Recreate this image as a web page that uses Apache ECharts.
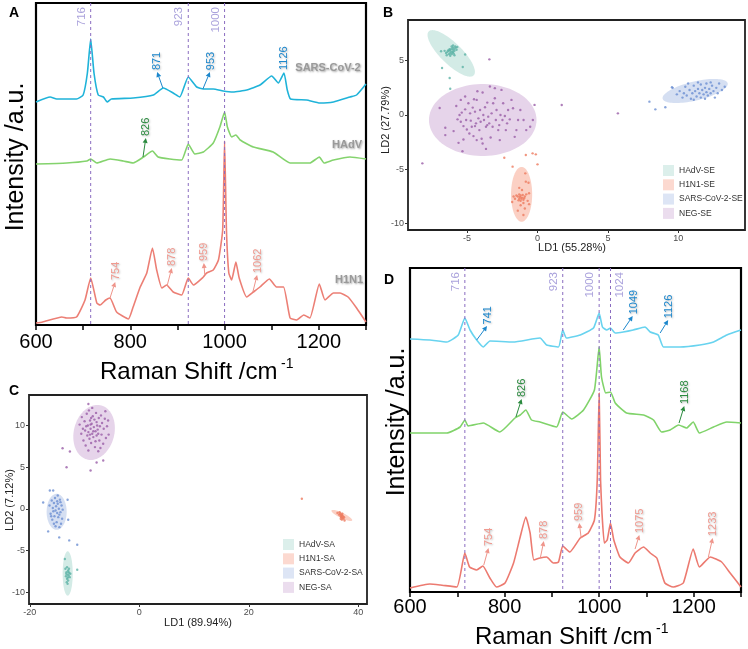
<!DOCTYPE html>
<html>
<head>
<meta charset="utf-8">
<script src="https://cdn.jsdelivr.net/npm/echarts@6/dist/echarts.min.js"></script>
<style>
html, body { margin: 0; padding: 0; background: #fff; }
#chart { width: 748px; height: 649px; }
</style>
</head>
<body>
<div id="chart"></div>
<script>
// ---- panel A spectra: [Raman shift cm-1, intensity a.u.]
var sarsA = [[600,223],[630,228],[644,226],[686,226],[700,230],[709,252],[716,286],[723,252],[732,230],[743,228],[751,223],[760,226],[806,227],[849,230],[870,237],[891,232],[905,228],[923,248],[941,238],[955,236],[976,236],[997,234],[1018,233],[1047,235],[1075,240],[1100,249],[1114,242],[1126,252],[1133,235],[1140,226],[1174,225],[1202,222],[1231,223],[1266,228],[1280,230],[1300,241]];
var hadvA = [[600,161],[665,162],[708,164],[716,166],[729,162],[757,166],[785,164],[806,162],[828,168],[847,174],[859,168],[884,166],[909,165],[923,181],[937,171],[955,173],[976,182],[990,198],[1000,213],[1006,198],[1015,188],[1024,190],[1033,185],[1061,178],[1103,173],[1139,162],[1181,162],[1201,168],[1211,162],[1231,165],[1266,168],[1300,166]];
var h1n1A = [[600,2],[614,3],[655,8],[665,7],[686,8],[704,25],[716,47],[729,22],[736,20],[748,25],[757,27],[771,13],[796,6],[806,18],[821,38],[835,52],[847,77],[856,55],[867,37],[877,40],[891,33],[909,30],[923,47],[934,40],[955,48],[962,52],[976,55],[987,65],[996,95],[1000,184],[1004,95],[1009,52],[1015,45],[1024,63],[1031,47],[1047,28],[1061,33],[1075,38],[1095,46],[1110,38],[1125,38],[1139,7],[1153,5],[1168,10],[1181,7],[1201,41],[1213,25],[1231,32],[1245,32],[1262,28],[1280,17],[1300,3]];

// ---- panel D spectra
var cyanD = [[600,253],[642,252],[678,250],[702,257],[716,274],[727,262],[741,252],[755,245],[769,251],[818,250],[875,254],[889,247],[914,245],[923,262],[931,254],[960,257],[988,264],[1000,279],[1007,265],[1016,262],[1024,264],[1034,259],[1051,260],[1072,262],[1097,265],[1108,260],[1125,257],[1136,245],[1171,245],[1213,247],[1242,250],[1270,257],[1300,262]];
var greenD = [[600,159],[678,159],[706,165],[716,172],[723,166],[755,169],[790,160],[822,174],[833,177],[845,182],[857,172],[875,170],[910,165],[923,180],[942,173],[967,182],[990,202],[1000,245],[1005,215],[1014,199],[1024,200],[1034,189],[1058,179],[1094,177],[1115,172],[1132,160],[1150,162],[1168,167],[1185,164],[1199,170],[1212,159],[1242,165],[1270,170],[1300,169]];
var redD = [[600,4],[642,8],[664,7],[699,5],[716,39],[726,25],[741,22],[754,26],[769,14],[783,5],[801,9],[819,29],[833,55],[845,75],[854,59],[862,32],[875,34],[889,35],[903,29],[914,30],[923,46],[938,40],[960,54],[977,59],[990,72],[996,112],[1000,199],[1003,112],[1006,79],[1011,49],[1017,52],[1024,69],[1031,52],[1044,35],[1062,29],[1076,39],[1094,45],[1108,39],[1122,34],[1139,9],[1157,5],[1178,9],[1199,43],[1212,25],[1235,35],[1259,30],[1277,19],[1300,5]];

// dashed reference lines (label side: -1 left of line, 1 right)
var vlinesA = [716, 923, 1000];
var vlineSideA = [-1, -1, -1];
var vlinesD = [716, 923, 1000, 1024];
var vlineSideD = [-1, -1, -1, 1];

// peak labels: [label, tailX, tailY, headX, headY]
var annSarsA = [[871,869,237,857,253],[953,954,236,969,253],[1126,1126,255,1126,255]];
var annHadvA = [[826,827,168,833,187]];
var annH1n1A = [[754,757,27,768,43],[878,878,39,888,57],[959,958,50,956,62],[1062,1060,33,1069,50]];
var annCyanD = [[741,741,252,763,266],[1049,1051,262,1071,276],[1126,1129,259,1146,272]];
var annGreenD = [[826,824,175,836,193],[1168,1169,169,1180,186]];
var annRedD = [[754,756,27,766,44],[878,876,35,883,51],[959,962,54,958,69],[1075,1076,43,1085,57],[1233,1231,35,1240,54]];

// ---- panel B (LDA, SE)
var groupsB = ['HAdV-SE', 'H1N1-SE', 'SARS-CoV-2-SE', 'NEG-SE'];
// ellipses: [cx, cy, ux, uy, vx, vy]
var ellB = [[-6.13,5.67,1.6,-2.02,0.52,0.71],[-1.13,-7.3,0,2.52,0.75,0],[11.2,2.21,2.31,0.71,0.16,-0.85],[-3.89,-0.46,3.82,0,0,3.31]];
var hadvB = [[-6.4,5.8],[-6.3,5.9],[-6.2,6.0],[-6.1,6.1],[-6.0,6.2],[-5.9,6.1],[-5.8,6.2],[-6.2,5.7],[-6.0,5.8],[-5.9,5.9],[-6.1,5.6],[-6.3,5.6],[-6.5,5.7],[-6.0,6.0],[-5.85,6.3],[-6.15,5.85],[-6.25,6.05],[-5.95,5.65],[-6.35,5.95],[-6.05,5.75],[-5.75,6.0],[-6.1,6.3],[-6.45,5.5],[-6.6,5.9],[-5.7,6.25],[-6.2,5.45],[-5.9,5.5],[-6.0,6.4],[-6.85,5.86],[-5.14,5.56],[-5.31,4.41],[-6.78,4.32],[-6.24,3.4],[-6.2,2.41]];
var h1n1B = [[-1.4,-7.5],[-1.3,-7.7],[-1.2,-7.4],[-1.1,-7.6],[-1.0,-7.8],[-0.9,-7.5],[-1.2,-7.9],[-1.3,-7.3],[-1.05,-7.35],[-1.15,-7.7],[-0.95,-7.65],[-1.25,-7.55],[-1.35,-7.85],[-1.5,-7.4],[-0.8,-7.3],[-1.6,-7.7],[-1.7,-7.5],[-0.7,-7.9],[-1.0,-8.1],[-1.2,-8.3],[-0.9,-8.6],[-1.1,-6.9],[-1.4,-8.8],[-1.0,-9.2],[-1.8,-8.0],[-0.6,-7.2],[-0.6,-8.2],[-1.3,-6.7],[-2.36,-3.93],[-1.77,-4.75],[-0.83,-3.68],[-0.35,-3.53],[0.0,-4.54],[-0.12,-3.62],[-0.83,-6.13],[-0.64,-6.23],[-0.87,-5.37]];
var sarsB = [[9.6,2.5],[9.9,1.9],[10.1,2.2],[10.3,1.6],[10.4,2.0],[10.5,2.6],[10.6,1.8],[10.8,2.3],[10.9,1.5],[11.0,2.0],[11.1,2.7],[11.2,2.2],[11.3,1.7],[11.4,2.4],[11.5,2.0],[11.6,2.8],[11.6,1.6],[11.7,2.3],[11.8,1.9],[11.9,2.5],[12.0,2.1],[12.0,2.9],[12.1,1.8],[12.2,2.4],[12.3,2.0],[12.4,2.7],[12.5,2.2],[12.6,1.6],[12.7,2.5],[12.8,2.0],[12.9,2.9],[13.1,2.3],[13.3,2.6],[11.4,3.0],[10.7,2.9],[12.3,3.0],[11.9,1.5],[11.1,1.4],[7.95,1.23],[8.37,0.52],[9.08,0.71],[9.55,2.55]];
var negB = [[-6.95,0.65],[-6.55,-1.17],[-6.55,-1.85],[-5.96,-1.48],[-5.77,0.83],[-5.68,-0.4],[-5.61,-2.56],[-5.45,1.39],[-5.38,0.22],[-5.33,-3.33],[-5.26,-2.25],[-5.14,1.7],[-5.07,-0.46],[-5.02,-1.33],[-4.91,1.08],[-4.79,0.15],[-4.74,-0.52],[-4.67,-1.08],[-4.6,0.68],[-4.55,-1.94],[-4.51,1.45],[-4.44,0.31],[-4.37,-0.77],[-4.32,1.39],[-4.27,2.19],[-4.2,-0.31],[-4.13,-1.39],[-4.08,0.46],[-4.04,-0.62],[-3.97,-2.19],[-3.9,2.07],[-3.85,0],[-3.8,-0.46],[-3.73,0.71],[-3.66,-1.08],[-3.57,1.14],[-3.5,-0.15],[-3.43,-0.77],[-3.38,2.62],[-3.33,-2.07],[-3.26,0.15],[-3.19,-1.08],[-3.15,1.08],[-3.03,1.54],[-2.96,-0.46],[-2.91,0.46],[-2.79,-1.39],[-2.72,-0.93],[-2.68,-2.31],[-2.63,0],[-2.56,2.31],[-2.49,-0.46],[-2.44,1.08],[-2.32,-0.09],[-2.25,-1.39],[-2.16,-0.77],[-2.09,0.46],[-1.97,-0.4],[-1.85,1.39],[-1.74,0.62],[-1.62,-2.01],[-1.5,-1.39],[-1.38,-0.46],[-1.22,0.46],[-0.99,-0.46],[-0.8,-1.39],[-0.52,-1.08],[-0.33,-0.46],[-0.21,0.93],[-3.66,-3.12],[-5.45,-0.62],[-5.26,-1.02],[-5.54,0],[-4.84,-1.7],[-4.32,-2.31],[-3.9,-2.62],[-3.03,2.47],[-4.44,-1.02],[-3.57,-0.93],[-5.14,0.52],[-3.42,5.12],[1.72,0.92],[5.71,0.15],[-8.18,-4.45]];

// ---- panel C (LDA, SA)
var groupsC = ['HAdV-SA', 'H1N1-SA', 'SARS-CoV-2-SA', 'NEG-SA'];
var ellC = [[-13.08,-7.76,0,2.66,0.92,0],[37.0,-0.8,1.89,-0.6,0.21,0.29],[-15.1,-0.36,0,2.16,1.83,0],[-8.26,9.16,0.6,3.3,3.75,0]];
var hadvC = [[-13.5,-7.2],[-13.4,-8.1],[-13.3,-7.6],[-13.2,-8.4],[-13.1,-7.9],[-13.0,-7.4],[-12.9,-8.0],[-12.8,-7.7],[-13.2,-7.0],[-13.0,-8.6],[-12.7,-8.2],[-13.35,-7.8],[-12.95,-7.55],[-13.1,-9.0],[-13.25,-8.8],[-12.85,-7.2],[-13.05,-8.25],[-12.6,-7.8],[-11.34,-7.31],[-13.6,-6.03]];
var h1n1C = [[36.2,-0.5],[36.5,-0.7],[36.7,-0.6],[36.8,-0.9],[36.9,-1.0],[37.0,-0.8],[37.1,-1.1],[37.2,-0.9],[37.3,-1.2],[37.0,-1.3],[36.9,-0.7],[37.4,-1.0],[36.6,-0.4],[37.5,-1.4],[36.8,-1.2],[37.1,-0.6],[29.7,1.2]];
var sarsC = [[-16.4,0.4],[-16.2,-0.6],[-16.0,1.0],[-15.9,-1.3],[-15.8,0.1],[-15.7,-0.3],[-15.6,0.7],[-15.5,-0.9],[-15.4,1.3],[-15.3,-0.2],[-15.2,0.3],[-15.1,-1.6],[-15.0,-0.5],[-14.9,0.6],[-14.8,-1.0],[-14.7,0.0],[-14.6,-0.7],[-14.5,1.1],[-14.4,-0.4],[-14.3,-1.8],[-14.2,0.4],[-14.1,-1.2],[-14.0,-0.1],[-15.3,-2.1],[-14.9,1.6],[-15.6,-1.8],[-14.6,-2.2],[-16.1,-0.9],[-15.0,0.9],[-14.4,0.8],[-17.56,0.76],[-16.34,2.2],[-15.73,2.2],[-16.65,-2.71],[-14.63,-3.43],[-12.8,-3.79],[-11.34,-4.31],[-13.1,1.08],[-12.99,-1.32]];
var negC = [[-10.9,10.1],[-10.6,9.0],[-10.5,11.0],[-10.2,8.2],[-10.0,10.5],[-9.9,9.4],[-9.8,7.6],[-9.6,11.4],[-9.5,8.8],[-9.4,10.0],[-9.3,9.2],[-9.2,11.8],[-9.1,8.4],[-9.0,10.6],[-8.9,9.6],[-8.8,7.9],[-8.7,10.2],[-8.6,9.0],[-8.5,11.1],[-8.4,8.6],[-8.3,9.8],[-8.2,10.7],[-8.1,7.4],[-8.0,9.3],[-7.9,11.5],[-7.8,8.8],[-7.7,10.0],[-7.6,9.5],[-7.5,6.9],[-7.4,10.9],[-7.3,8.2],[-7.2,9.9],[-7.0,11.2],[-6.9,8.9],[-6.8,10.3],[-6.6,7.8],[-6.5,9.6],[-6.3,10.8],[-6.1,8.5],[-5.9,9.9],[-5.7,10.6],[-5.6,8.9],[-9.7,9.9],[-8.8,10.9],[-8.0,8.1],[-9.0,8.9],[-7.5,9.0],[-8.6,12.1],[-10.3,9.6],[-9.3,7.0],[-7.1,7.3],[-6.2,11.7],[-8.4,9.3],[-8.9,10.1],[-7.8,10.4],[-9.3,12.57],[-14.02,7.27],[-12.68,6.87],[-13.29,4.99],[-8.9,4.59],[-7.8,5.55],[-6.59,5.79]];

var pointColors = ['#5db3a6', '#ee7a5f', '#6b8fd2', '#9a5ea8'];
var ellFills = ['#d3ebe6', '#fbd0c4', '#d5dff2', '#e6d4ea'];

var FONT = '"Liberation Sans", Arial, sans-serif';
var myChart = echarts.init(document.getElementById('chart'));

function specX(g, margin) {
  return {
    gridIndex: g, type: 'value', min: 600, max: 1300, interval: 100,
    axisLine: {show: false, onZero: false}, splitLine: {show: false},
    axisTick: {show: true, length: 5, lineStyle: {color: '#000', width: 1.5}},
    axisLabel: {fontSize: 20, color: '#000', fontFamily: FONT, margin: margin,
      formatter: function (v) { return (v % 200 === 0 && v < 1300) ? String(v) : ''; }}
  };
}
function specY(g, max) {
  return {gridIndex: g, type: 'value', min: 0, max: max, show: false, splitLine: {show: false}};
}
function ldAxis(g, min, max, ticks) {
  return {
    gridIndex: g, type: 'value', min: min, max: max,
    axisLine: {show: false, onZero: false}, splitLine: {show: false},
    axisTick: {show: true, length: 3, customValues: ticks, lineStyle: {color: '#333'}},
    axisLabel: {fontSize: 9, color: '#4d4d4d', margin: 4, fontFamily: FONT, customValues: ticks}
  };
}

function vlineSeries(vals, sides, xi, yMax) {
  return {
    type: 'custom', xAxisIndex: xi, yAxisIndex: xi, z: 3, silent: true,
    data: vals.map(function (v) { return [v, 0]; }),
    encode: {x: 0, y: 1},
    renderItem: function (params, api) {
      var x = api.value(0);
      var top = api.coord([x, yMax]);
      var bot = api.coord([x, 0]);
      var side = sides[params.dataIndex];
      return {type: 'group', children: [
        {type: 'line', shape: {x1: top[0], y1: top[1], x2: bot[0], y2: bot[1]},
          style: {stroke: '#8a6cc0', lineWidth: 1, lineDash: [3, 3]}},
        {type: 'text', x: top[0] + side * 9, y: top[1] + 4, rotation: Math.PI / 2,
          style: {text: String(x), fill: '#aaa2dc', font: '11.5px ' + FONT, align: 'right', verticalAlign: 'middle'}}
      ]};
    }
  };
}

function annSeries(list, xi, color, textColor) {
  return {
    type: 'custom', xAxisIndex: xi, yAxisIndex: xi, z: 4, silent: true,
    data: list, encode: {x: [1, 3], y: [2, 4]},
    renderItem: function (params, api) {
      var p0 = api.coord([api.value(1), api.value(2)]);
      var p1 = api.coord([api.value(3), api.value(4)]);
      var dx = p1[0] - p0[0], dy = p1[1] - p0[1];
      var len = Math.sqrt(dx * dx + dy * dy);
      var kids = [];
      var tx = p1[0], ty = p1[1];
      if (len > 1) {
        var ux = dx / len, uy = dy / len;
        var bx = p1[0] - ux * 5, by = p1[1] - uy * 5;
        kids.push({type: 'line', shape: {x1: p0[0], y1: p0[1], x2: bx, y2: by},
          style: {stroke: color, lineWidth: 1}});
        kids.push({type: 'polygon', shape: {points: [[p1[0], p1[1]], [bx - uy * 2.5, by + ux * 2.5], [bx + uy * 2.5, by - ux * 2.5]]},
          style: {fill: color}});
        tx = p1[0] + ux * 2; ty = p1[1] + uy * 2;
      }
      kids.push({type: 'text', x: tx, y: ty, rotation: Math.PI / 2,
        style: {text: String(api.value(0)), fill: textColor, font: '11px ' + FONT, align: 'left', verticalAlign: 'middle',
          textShadowColor: 'rgba(0,0,0,0.25)', textShadowBlur: 2, textShadowOffsetX: 1, textShadowOffsetY: 1}});
      return {type: 'group', children: kids};
    }
  };
}

function ellipseSeries(list, xi) {
  return {
    type: 'custom', xAxisIndex: xi, yAxisIndex: xi, z: 1, silent: true, clip: true,
    data: list, encode: {x: 0, y: 1},
    renderItem: function (params, api) {
      var cx = api.value(0), cy = api.value(1), ux = api.value(2), uy = api.value(3), vx = api.value(4), vy = api.value(5);
      var pts = [];
      for (var i = 0; i < 90; i++) {
        var t = i / 90 * Math.PI * 2;
        pts.push(api.coord([cx + Math.cos(t) * ux + Math.sin(t) * vx, cy + Math.cos(t) * uy + Math.sin(t) * vy]));
      }
      return {type: 'polygon', shape: {points: pts}, style: {fill: ellFills[params.dataIndex]}};
    }
  };
}

function pts(name, data, xi, k) {
  return {name: name, type: 'scatter', xAxisIndex: xi, yAxisIndex: xi, z: 2, data: data,
    symbolSize: 2.4, itemStyle: {color: pointColors[k]}, silent: true};
}
function specLine(data, xi, color) {
  return {type: 'line', xAxisIndex: xi, yAxisIndex: xi, data: data, showSymbol: false, z: 2,
    smooth: 0.15, lineStyle: {color: color, width: 1.6}, silent: true};
}
function legendFor(names, left, top) {
  return {left: left, top: top, padding: 0, orient: 'vertical', itemWidth: 11, itemHeight: 11, itemGap: 3.3,
    textStyle: {fontSize: 8.5, color: '#333', fontFamily: FONT}, selectedMode: false,
    data: names.map(function (n, i) { return {name: n, icon: 'rect', itemStyle: {color: ellFills[i]}}; })};
}
function txt(x, y, s, size, opts) {
  opts = opts || {};
  return {type: 'text', x: x, y: y, rotation: opts.rot || 0, z: 10,
    style: {text: s, font: (opts.bold ? 'bold ' : '') + size + 'px ' + FONT, fill: opts.color || '#000',
      align: opts.align || 'center', verticalAlign: 'middle',
      textShadowColor: opts.shadow ? 'rgba(0,0,0,0.35)' : 'transparent', textShadowBlur: opts.shadow ? 2 : 0,
      textShadowOffsetX: opts.shadow ? 1 : 0, textShadowOffsetY: opts.shadow ? 1 : 0}};
}

var option = {
  animation: false,
  backgroundColor: '#fff',
  grid: [
    {left: 36, top: 3, width: 330, height: 322, show: true, borderColor: '#000', borderWidth: 2.2},
    {left: 408, top: 20, width: 337, height: 210, show: true, borderColor: '#222', borderWidth: 1.8},
    {left: 29, top: 395, width: 338, height: 209, show: true, borderColor: '#222', borderWidth: 1.8},
    {left: 410, top: 268, width: 331, height: 324, show: true, borderColor: '#000', borderWidth: 2.2}
  ],
  xAxis: [
    specX(0, 7),
    ldAxis(1, -9.2, 14.74, [-5, 0, 5, 10]),
    ldAxis(2, -20.15, 41.6, [-20, 0, 20, 40]),
    specX(3, 5)
  ],
  yAxis: [
    specY(0, 322),
    ldAxis(1, -10.58, 8.74, [-10, -5, 0, 5]),
    ldAxis(2, -11.42, 13.65, [-10, -5, 0, 5, 10]),
    specY(3, 324)
  ],
  legend: [legendFor(groupsB, 663, 165), legendFor(groupsC, 283, 539)],
  series: [
    specLine(sarsA, 0, '#1fb3d9'),
    specLine(hadvA, 0, '#84d36d'),
    specLine(h1n1A, 0, '#ec7f75'),
    vlineSeries(vlinesA, vlineSideA, 0, 322),
    annSeries(annSarsA, 0, '#1d87cc', '#1d87cc'),
    annSeries(annHadvA, 0, '#2a8a3e', '#2a8a3e'),
    annSeries(annH1n1A, 0, '#ef958b', '#f09a90'),

    ellipseSeries(ellB, 1),
    pts(groupsB[0], hadvB, 1, 0),
    pts(groupsB[1], h1n1B, 1, 1),
    pts(groupsB[2], sarsB, 1, 2),
    pts(groupsB[3], negB, 1, 3),

    ellipseSeries(ellC, 2),
    pts(groupsC[0], hadvC, 2, 0),
    pts(groupsC[1], h1n1C, 2, 1),
    pts(groupsC[2], sarsC, 2, 2),
    pts(groupsC[3], negC, 2, 3),

    specLine(cyanD, 3, '#68d3ef'),
    specLine(greenD, 3, '#80d36a'),
    specLine(redD, 3, '#ec7a70'),
    vlineSeries(vlinesD, vlineSideD, 3, 324),
    annSeries(annCyanD, 3, '#1d87cc', '#1d87cc'),
    annSeries(annGreenD, 3, '#2a8a3e', '#2a8a3e'),
    annSeries(annRedD, 3, '#ef958b', '#f09a90')
  ],
  graphic: [
    txt(14, 13, 'A', 14, {bold: true}),
    txt(388, 13, 'B', 14, {bold: true}),
    txt(14, 391, 'C', 14, {bold: true}),
    txt(389, 280, 'D', 14, {bold: true}),
    // spectra axis titles
    txt(16, 157, 'Intensity /a.u.', 25, {rot: Math.PI / 2}),
    txt(397, 422, 'Intensity /a.u.', 25, {rot: Math.PI / 2}),
    txt(100, 372, 'Raman Shift /cm', 24, {align: 'left'}),
    txt(281, 364, '-1', 14, {align: 'left'}),
    txt(475, 637, 'Raman Shift /cm', 24, {align: 'left'}),
    txt(656, 629, '-1', 14, {align: 'left'}),
    // trace names
    txt(328, 68, 'SARS-CoV-2', 11, {bold: true, color: '#9a9a9a', shadow: true}),
    txt(347, 145, 'HAdV', 11, {bold: true, color: '#9a9a9a', shadow: true}),
    txt(349, 280, 'H1N1', 11, {bold: true, color: '#9a9a9a', shadow: true}),
    // LDA axis titles
    txt(572, 248, 'LD1 (55.28%)', 11, {color: '#222'}),
    txt(386, 120, 'LD2 (27.79%)', 11, {color: '#222', rot: Math.PI / 2}),
    txt(198, 623, 'LD1 (89.94%)', 11, {color: '#222'}),
    txt(10, 500, 'LD2 (7.12%)', 11, {color: '#222', rot: Math.PI / 2})
  ]
};

myChart.setOption(option);
</script>
</body>
</html>
